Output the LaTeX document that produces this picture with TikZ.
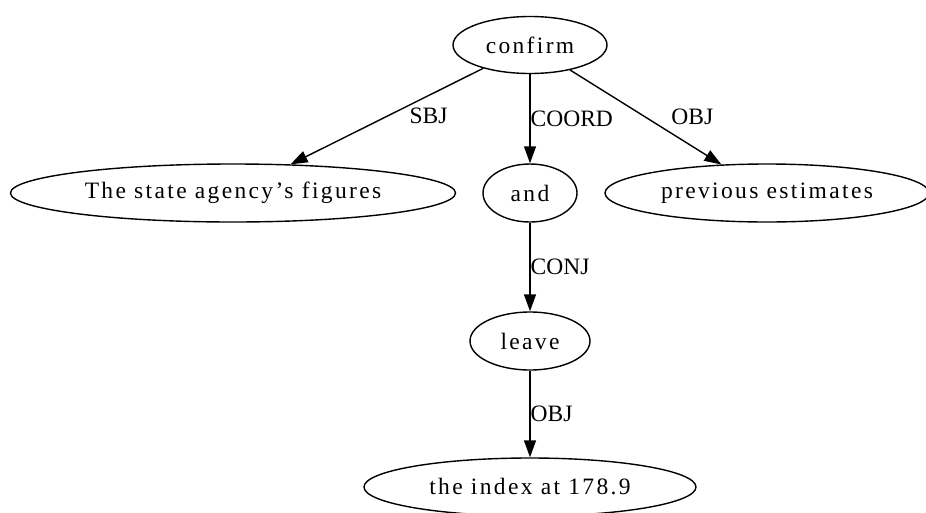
\documentclass[tikz,border=0pt]{standalone}
\usepackage{fontspec}
\setmainfont{Liberation Serif}
\newfontfamily\nodefont[LetterSpace=10]{Liberation Serif}
\usetikzlibrary{shapes.geometric,arrows.meta}
\tikzset{
  DepNode/.style = {ellipse, draw=black, line width=1.4pt, inner sep=0pt, minimum height=58pt, font=\fontsize{23.5}{28}\nodefont},
  ArcLabel/.style = {inner sep=0pt, anchor=west, font=\fontsize{23.5}{28}\selectfont}
}

\begin{document}
\begin{tikzpicture}[x=1pt,y=-1pt,->,>={Triangle[length=17pt,width=12pt]},line width=1.4pt]
  \useasboundingbox (0,0) rectangle (926,512);
  \node [DepNode, minimum width=154pt, minimum height=57pt] (confirm) at (530,45) {confirm};
  \node [DepNode, minimum width=445pt] (figures) at (233,193) {The state agency’s figures};
  \node [DepNode, minimum width=94pt] (and) at (530,193) {and};
  \node [DepNode, minimum width=324pt] (estimates) at (767,193) {previous estimates};
  \node [DepNode, minimum width=120pt] (leave) at (530,341) {leave};
  \node [DepNode, minimum width=332pt] (index) at (530,487) {the index at 178.9};
  % arcs
  \draw (confirm) -- node [ArcLabel, xshift=22pt] {SBJ} (figures);
  \draw (confirm) -- node [ArcLabel] {COORD} (and);
  \draw (confirm) -- node [ArcLabel, xshift=25pt] {OBJ} (estimates);
  \draw (and) -- node [ArcLabel] {CONJ} (leave);
  \draw (leave) -- node [ArcLabel] {OBJ} (index);
\end{tikzpicture}
\end{document}
